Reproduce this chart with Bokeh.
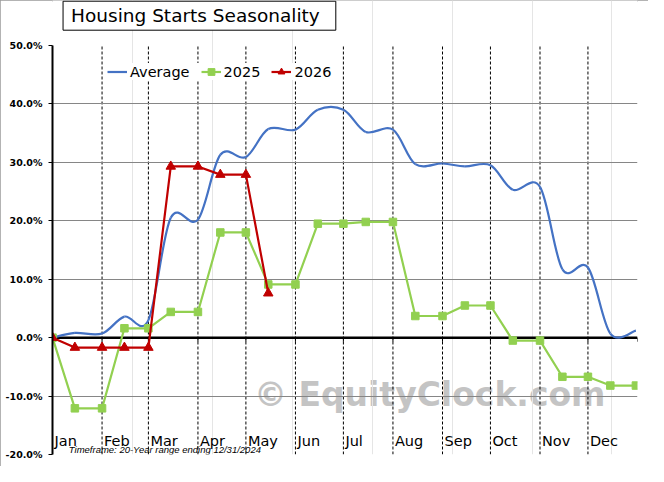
import numpy as np
import pandas as pd
from bokeh.plotting import figure
from bokeh.models import (Range1d, FixedTicker, PrintfTickFormatter, Span, Legend,
                          LegendItem, Label, ColumnDataSource)
from bokeh.core.properties import value
from bokeh.embed import file_html
from bokeh.resources import INLINE

# ---------------- data ----------------
dates = ["01-01", "01-15", "02-01", "02-15", "03-01", "03-15", "04-01", "04-15",
         "05-01", "05-15", "06-01", "06-15", "07-01", "07-15", "08-01", "08-15",
         "09-01", "09-15", "10-01", "10-15", "11-01", "11-15", "12-01", "12-15", "12-31"]
average = [0.0, 0.8, 0.7, 3.6, 3.0, 20.5, 20.2, 31.3, 30.9, 35.7, 35.6, 39.0, 39.0,
           35.2, 35.6, 29.7, 29.8, 29.3, 29.5, 25.3, 25.8, 11.7, 12.0, 0.7, 1.2]
y2025 = [0.0, -12.1, -12.1, 1.6, 1.6, 4.4, 4.4, 18.0, 18.0, 9.1, 9.1, 19.5, 19.5,
         19.8, 19.8, 3.7, 3.7, 5.5, 5.5, -0.5, -0.5, -6.7, -6.7, -8.2, -8.2]
y2026 = [0.0, -1.7, -1.7, -1.7, -1.7, 29.3, 29.3, 27.9, 27.9, 7.6]
months = ["Jan", "Feb", "Mar", "Apr", "May", "Jun", "Jul", "Aug", "Sep", "Oct", "Nov", "Dec"]
month_starts = ["01-01", "02-01", "03-01", "04-01", "05-01", "06-01", "07-01", "08-01",
                "09-01", "10-01", "11-01", "12-01"]
year_end = "12-31"
yticks = [-20, -10, 0, 10, 20, 30, 40, 50]
grid_ticks = [-10, 10, 20, 30, 40]
y_min, y_max = -20, 50
title_text = "Housing Starts Seasonality"
timeframe_text = "Timeframe: 20-Year range ending 12/31/2024"
watermark_text = "\u00a9 EquityClock.com"

BLUE = "#4472C4"
GREEN = "#92D050"
RED = "#C00000"


def doy(md):
    return (pd.Timestamp("2024-" + md) - pd.Timestamp("2024-01-01")).days


x_all = [doy(d) for d in dates]
x_months = [doy(m) for m in month_starts]
x_end = doy(year_end) + 1

# ---------------- figure ----------------
# frame covers the full height so the title box (drawn above the 50% line) is not clipped
p = figure(width=648, height=466, x_range=Range1d(0, x_end), y_range=Range1d(y_min, 57.70),
           output_backend="svg", toolbar_location=None, title=None,
           x_axis_location=None,
           min_border_left=52, min_border_right=11, min_border_top=0, min_border_bottom=12,
           background_fill_color="white", border_fill_color="white",
           outline_line_color=None)
p.styles = {"outline": "2px solid #9a9a9a", "outline-offset": "-2px"}

# y axis
yax = p.yaxis[0]
yax.ticker = FixedTicker(ticks=yticks)
yax.bounds = (y_min, y_max)
yax.formatter = PrintfTickFormatter(format="%.1f%%")
yax.axis_line_color = "black"
yax.axis_line_width = 2
yax.major_tick_line_color = "black"
yax.major_tick_in = 0
yax.major_tick_out = 4
yax.minor_tick_line_color = None
yax.major_label_text_font = "DejaVu Sans"
yax.major_label_text_font_style = "bold"
yax.major_label_text_font_size = "9.5px"
yax.major_label_text_color = "black"
yax.major_label_standoff = 6

p.ygrid.ticker = FixedTicker(ticks=grid_ticks)
p.ygrid.grid_line_color = "#868686"
p.ygrid.grid_line_width = 1

# watermark
wm = ColumnDataSource(dict(x=[126], y=[-9.8], t=[watermark_text]))
p.text(x="x", y="y", text="t", source=wm, text_font=value("DejaVu Sans"),
       text_font_style="bold", text_font_size="33px", text_color="#c4c4c4",
       text_baseline="alphabetic", level="image")

# dashed month separators
vx = x_months[1:]
p.segment(x0=vx, y0=[y_min] * len(vx), x1=vx, y1=[y_max] * len(vx),
          line_color="black", line_width=1, line_dash="3 2", level="underlay")

# zero axis
p.add_layout(Span(location=0, dimension="width", line_color="black", line_width=2.5,
                  level="underlay"))
tick_x = x_months[1:] + [x_end]
p.segment(x0=tick_x, y0=[0] * len(tick_x), x1=tick_x, y1=[-0.7] * len(tick_x),
          line_color="black", line_width=1)

# smooth average curve (Excel style bezier through points)
xa = np.array(x_all, float)
ya = np.array(average, float)
xp = np.concatenate([[xa[0]], xa, [xa[-1]]])
yp = np.concatenate([[ya[0]], ya, [ya[-1]]])
bz = dict(x0=[], y0=[], x1=[], y1=[], cx0=[], cy0=[], cx1=[], cy1=[])
for i in range(len(xa) - 1):
    x0, x1, x2, x3 = xp[i], xp[i + 1], xp[i + 2], xp[i + 3]
    y0, y1, y2, y3 = yp[i], yp[i + 1], yp[i + 2], yp[i + 3]
    bz["x0"].append(x1); bz["y0"].append(y1)
    bz["x1"].append(x2); bz["y1"].append(y2)
    bz["cx0"].append(x1 + (x2 - x0) / 6.0); bz["cy0"].append(y1 + (y2 - y0) / 6.0)
    bz["cx1"].append(x2 - (x3 - x1) / 6.0); bz["cy1"].append(y2 - (y3 - y1) / 6.0)
r_avg = p.bezier(source=ColumnDataSource(bz), x0="x0", y0="y0", x1="x1", y1="y1",
                 cx0="cx0", cy0="cy0", cx1="cx1", cy1="cy1",
                 line_color=BLUE, line_width=2.2)

# 2025
r25l = p.line(x_all, y2025, line_color=GREEN, line_width=2.2)
r25m = p.scatter(x_all, y2025, marker="square", size=7.5, fill_color=GREEN,
                 line_color=GREEN)

# 2026
x26 = x_all[:len(y2026)]
r26l = p.line(x26, y2026, line_color=RED, line_width=2.2)
r26m = p.scatter(x26, y2026, marker="triangle", size=9.5, fill_color=RED, line_color=RED)

# month labels
ml = ColumnDataSource(dict(x=x_months, y=[-17.75] * len(x_months), t=months))
p.text(x="x", y="y", text="t", source=ml, x_offset=2, text_font=value("DejaVu Sans"),
       text_font_size="14.5px", text_color="black", text_baseline="alphabetic")

# timeframe note
p.add_layout(Label(x=10.2, y=-19.08, text=timeframe_text, text_font="Liberation Sans",
                   text_font_style="italic", text_font_size="9.5px", text_color="black",
                   text_baseline="alphabetic"))

# title box
p.add_layout(Label(x=6.6, y=55.1, text=title_text, text_font="DejaVu Sans",
                   text_font_size="18.5px", text_color="black", text_baseline="middle",
                   text_align="left", background_fill_color="white",
                   border_line_color="black", border_line_width=1,
                   padding=dict(left=8, right=16, top=4, bottom=4)))

# legend
legend = Legend(items=[LegendItem(label="Average", renderers=[r_avg]),
                       LegendItem(label="2025", renderers=[r25l, r25m]),
                       LegendItem(label="2026", renderers=[r26l, r26m])],
                orientation="horizontal", location=(55, 374),
                label_text_font="DejaVu Sans", label_text_font_size="14.5px",
                label_text_color="black", glyph_width=20, glyph_height=17,
                label_height=17, label_standoff=3, spacing=11, padding=6, margin=0,
                background_fill_color="white", background_fill_alpha=1.0,
                border_line_color=None)
p.add_layout(legend)

open("out.html", "w").write(file_html(p, INLINE))
